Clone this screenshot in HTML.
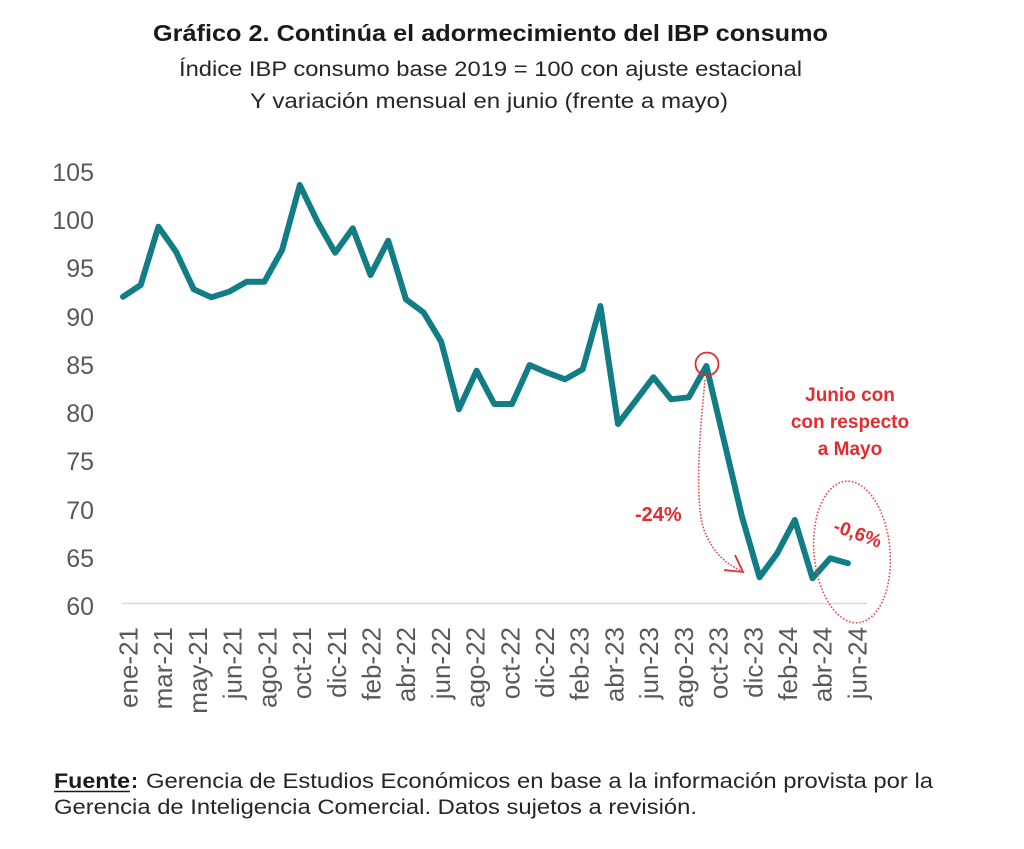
<!DOCTYPE html>
<html>
<head>
<meta charset="utf-8">
<style>
  html, body { margin: 0; padding: 0; background: #ffffff; }
  svg { display: block; }
  text { font-family: "Liberation Sans", Arial, sans-serif; }
</style>
</head>
<body>
<svg width="1024" height="849" viewBox="0 0 1024 849" xmlns="http://www.w3.org/2000/svg">
  <rect width="1024" height="849" fill="#ffffff"/>

  <!-- Titles -->
  <text x="153" y="41" font-size="23" font-weight="bold" fill="#1a1a1a" textLength="675" lengthAdjust="spacingAndGlyphs">Gráfico 2. Continúa el adormecimiento del IBP consumo</text>
  <text x="179" y="76" font-size="21" fill="#262626" textLength="623" lengthAdjust="spacingAndGlyphs">Índice IBP consumo base 2019 = 100 con ajuste estacional</text>
  <text x="250" y="108" font-size="21" fill="#262626" textLength="478" lengthAdjust="spacingAndGlyphs">Y variación mensual en junio (frente a mayo)</text>

  <!-- Y axis labels -->
  <g font-size="25" fill="#595959" text-anchor="end">
    <text x="94" y="181">105</text>
    <text x="94" y="229">100</text>
    <text x="94" y="277">95</text>
    <text x="94" y="326">90</text>
    <text x="94" y="374">85</text>
    <text x="94" y="422">80</text>
    <text x="94" y="470">75</text>
    <text x="94" y="519">70</text>
    <text x="94" y="567">65</text>
    <text x="94" y="615">60</text>
  </g>

  <!-- X axis line -->
  <line x1="122" y1="603.5" x2="867" y2="603.5" stroke="#d9d9d9" stroke-width="1.6"/>

  <!-- X axis labels (rotated) -->
  <g font-size="26" fill="#595959" text-anchor="end">
    <text transform="translate(137.5,627) rotate(-90)">ene-21</text>
    <text transform="translate(172.2,627) rotate(-90)">mar-21</text>
    <text transform="translate(206.9,627) rotate(-90)">may-21</text>
    <text transform="translate(241.6,627) rotate(-90)">jun-21</text>
    <text transform="translate(276.3,627) rotate(-90)">ago-21</text>
    <text transform="translate(311.1,627) rotate(-90)">oct-21</text>
    <text transform="translate(345.8,627) rotate(-90)">dic-21</text>
    <text transform="translate(380.5,627) rotate(-90)">feb-22</text>
    <text transform="translate(415.2,627) rotate(-90)">abr-22</text>
    <text transform="translate(449.9,627) rotate(-90)">jun-22</text>
    <text transform="translate(484.6,627) rotate(-90)">ago-22</text>
    <text transform="translate(519.3,627) rotate(-90)">oct-22</text>
    <text transform="translate(554,627) rotate(-90)">dic-22</text>
    <text transform="translate(588.7,627) rotate(-90)">feb-23</text>
    <text transform="translate(623.4,627) rotate(-90)">abr-23</text>
    <text transform="translate(658.2,627) rotate(-90)">jun-23</text>
    <text transform="translate(692.9,627) rotate(-90)">ago-23</text>
    <text transform="translate(727.6,627) rotate(-90)">oct-23</text>
    <text transform="translate(762.3,627) rotate(-90)">dic-23</text>
    <text transform="translate(797,627) rotate(-90)">feb-24</text>
    <text transform="translate(831.7,627) rotate(-90)">abr-24</text>
    <text transform="translate(866.4,627) rotate(-90)">jun-24</text>
  </g>

  <!-- Data line -->
  <polyline fill="none" stroke="#137d86" stroke-width="6" stroke-linejoin="round" stroke-linecap="round"
    points="123,296.7 140.7,285 158.4,226.7 176,251.7 193.7,289.3 211.4,297.3 229.1,291.7 246.8,281.7 264.4,281.7 282.1,250 299.8,185 317.5,221.7 335.2,252.7 352.8,228.3 370.5,275 388.2,240.7 405.9,299.3 423.6,312.5 441.2,341.7 458.9,409.3 476.6,370.7 494.3,404 512,404 529.6,365 547.3,372.7 565,379.3 582.7,369.3 600.4,306 618,424 635.7,400.7 653.4,377.3 671.1,399.3 688.8,397.3 706.4,366 724.1,441 741.8,516 759.5,577.3 777.2,553.3 794.8,520 812.5,578.3 830.2,558.3 847.9,563.3"/>

  <!-- Red annotations -->
  <circle cx="707" cy="364" r="11.5" fill="none" stroke="#e52b2f" stroke-width="1.8"/>
  <path d="M705,380 C700,430 694,500 704,530 C714,555 728,565 742,571" fill="none" stroke="#e8474a" stroke-width="1.6" stroke-dasharray="1.6 1.6"/>
  <path d="M724,570 L743,572 L735,555" fill="none" stroke="#e52b2f" stroke-width="1.8" stroke-linejoin="miter"/>
  <text x="635" y="521" font-size="20" font-weight="bold" fill="#e52b2f">-24%</text>

  <ellipse cx="852" cy="552" rx="38" ry="71" transform="rotate(-5 852 552)" fill="none" stroke="#e8474a" stroke-width="1.6" stroke-dasharray="1.6 1.8"/>
  <text x="858" y="540" font-size="19" font-weight="bold" fill="#e52b2f" text-anchor="middle" transform="rotate(20 858 533)">-0,6%</text>

  <g font-size="19" font-weight="bold" fill="#e52b2f" text-anchor="middle">
    <text x="850" y="401">Junio con</text>
    <text x="850" y="428">con respecto</text>
    <text x="850" y="455">a Mayo</text>
  </g>

  <!-- Footer -->
  <text x="54" y="788" font-size="21" font-weight="bold" fill="#1a1a1a" textLength="76" lengthAdjust="spacingAndGlyphs">Fuente</text>
  <text x="131" y="788" font-size="21" font-weight="bold" fill="#1a1a1a">:</text>
  <line x1="54" y1="791.5" x2="130" y2="791.5" stroke="#1a1a1a" stroke-width="1.6"/>
  <text x="146" y="788" font-size="21" fill="#262626" textLength="787" lengthAdjust="spacingAndGlyphs">Gerencia de Estudios Económicos en base a la información provista por la</text>
  <text x="54" y="814" font-size="21" fill="#262626" textLength="643" lengthAdjust="spacingAndGlyphs">Gerencia de Inteligencia Comercial. Datos sujetos a revisión.</text>
</svg>
</body>
</html>
